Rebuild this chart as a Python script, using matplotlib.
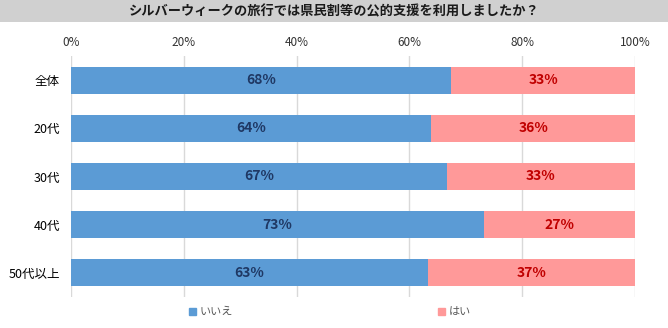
import numpy as np
import matplotlib.pyplot as plt
from matplotlib.patches import Rectangle, Patch

plt.rcParams['font.family'] = ['Noto Sans CJK JP', 'DejaVu Sans']

title = "シルバーウィークの旅行では県民割等の公的支援を利用しましたか？"
categories = ["全体", "20代", "30代", "40代", "50代以上"]
no_vals = [67.4, 63.9, 66.6, 73.2, 63.3]
yes_vals = [32.6, 36.1, 33.4, 26.8, 36.7]
no_labels = ["68%", "64%", "67%", "73%", "63%"]
yes_labels = ["33%", "36%", "33%", "27%", "37%"]
xticks = [0, 20, 40, 60, 80, 100]

blue = "#5B9BD5"
pink = "#FF9999"

fig = plt.figure(figsize=(6.68, 3.28), dpi=100)
# title band
fig.patches.append(Rectangle((0, 1 - 22/328), 1, 22/328, transform=fig.transFigure,
                             facecolor="#D0D0D0", edgecolor="none", zorder=0))
fig.text(0.5, 1 - 11/328, title, ha="center", va="center", fontsize=9.5,
         fontweight="bold", color="#1a1a1a")

ax = fig.add_axes([71/668, 1 - 297/328, 564/668, 241/328])
y = np.arange(len(categories))
h = 0.56
ax.barh(y, no_vals, height=h, color=blue, zorder=2)
ax.barh(y, yes_vals, left=no_vals, height=h, color=pink, zorder=2)

for i in range(len(categories)):
    ax.text(no_vals[i] / 2, y[i], no_labels[i], ha="center", va="center",
            fontsize=10, fontweight="bold", color="#1F3864", zorder=3)
    ax.text(no_vals[i] + yes_vals[i] / 2, y[i], yes_labels[i], ha="center", va="center",
            fontsize=10, fontweight="bold", color="#C00000", zorder=3)

ax.set_xlim(0, 100)
ax.set_ylim(4.5, -0.5)
ax.set_yticks(y)
ax.set_yticklabels(categories, fontsize=9)
ax.set_xticks(xticks)
ax.set_xticklabels([f"{t}%" for t in xticks], fontsize=8.5, color="#333333")
ax.xaxis.tick_top()
ax.tick_params(axis="both", length=0)
ax.tick_params(axis="x", pad=5)
ax.tick_params(axis="y", pad=8)
ax.grid(axis="x", color="#D9D9D9", linewidth=1, zorder=0)
for s in ax.spines.values():
    s.set_visible(False)

handles = [Patch(color=blue, label="いいえ"), Patch(color=pink, label="はい")]
fig.legend(handles=handles, ncol=2, loc="center", bbox_to_anchor=(330/668, 1 - 312/328),
           frameon=False, fontsize=8, handlelength=0.6, handleheight=0.6,
           handletextpad=0.3, columnspacing=18.5, labelcolor="#595959")

fig.savefig("out.png", dpi=100)
